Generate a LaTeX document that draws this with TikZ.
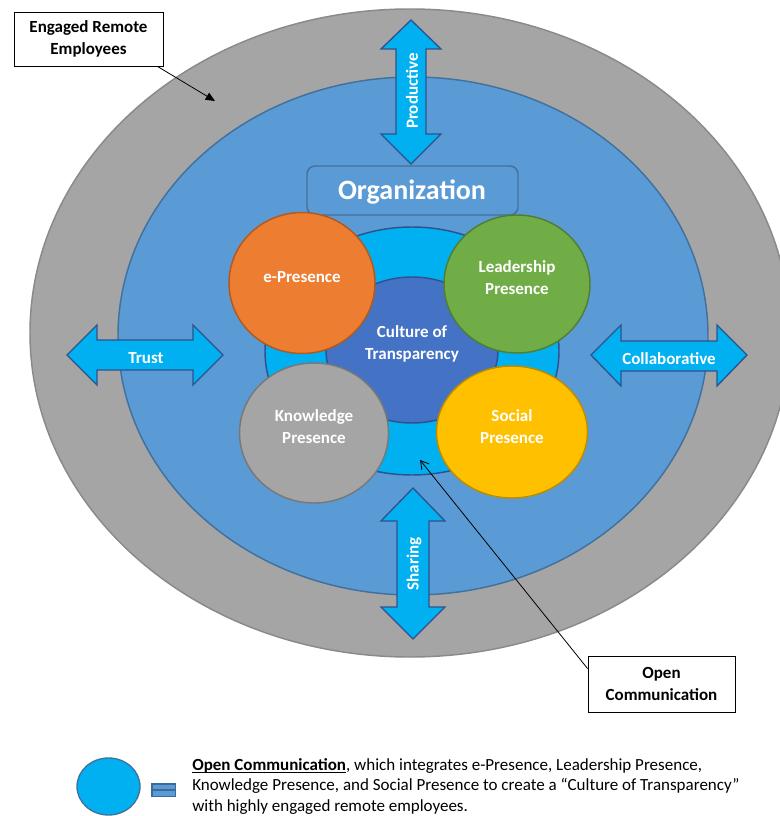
\documentclass[tikz,border=0pt]{standalone}
\usepackage{fontspec}
\setmainfont{Carlito}
\usetikzlibrary{shapes.geometric,arrows.meta}
\definecolor{grayfill}{HTML}{A5A5A5}
\definecolor{grayedge}{HTML}{8A8A8A}
\definecolor{bluefill}{HTML}{5B9BD5}
\definecolor{blueedge}{HTML}{41719C}
\definecolor{cyanfill}{HTML}{00B0F0}
\definecolor{navyedge}{HTML}{2F528F}
\definecolor{corefill}{HTML}{4472C4}
\definecolor{orangefill}{HTML}{ED7D31}
\definecolor{orangeedge}{HTML}{AE5A21}
\definecolor{greenfill}{HTML}{70AD47}
\definecolor{greenedge}{HTML}{507E32}
\definecolor{knowfill}{HTML}{A5A5A5}
\definecolor{knowedge}{HTML}{787878}
\definecolor{yellowfill}{HTML}{FFC000}
\definecolor{yellowedge}{HTML}{BC8C00}
\definecolor{iconfill}{HTML}{5B9BD5}
\definecolor{iconedge}{HTML}{3A6A98}
\newcommand\myunderline[1]{\setbox0\hbox{#1}\rlap{\raisebox{-1.6pt}{\rule{\wd0}{0.55pt}}}\box0}
\tikzset{
  oval/.style={ellipse, inner sep=0pt, line width=1.1pt},
  lbl/.style={text=white, font=\bfseries\fontsize{12.75}{16.5}\selectfont, align=center, inner sep=0pt},
  arrowshape/.style={fill=cyanfill, draw=navyedge, line width=1pt, line join=miter},
  callout/.style={draw=black, fill=white, line width=0.6pt, font=\bfseries\fontsize{12.75}{16.5}\selectfont, align=center, inner sep=0pt},
  pointer/.style={draw=black, line width=0.6pt}
}
\begin{document}
\begin{tikzpicture}[x=0.75pt, y=-0.75pt]
\path[use as bounding box] (0,0) rectangle (780,816);
\fill[white] (0,0) rectangle (780,816);
\begin{scope}
\clip (0,0) rectangle (780,816);
% rings
\node[oval, fill=grayfill, draw=grayedge, minimum width=570pt, minimum height=486pt] (outer) at (410,333) {};
\node[oval, fill=bluefill, draw=blueedge, minimum width=442.5pt, minimum height=388.5pt] (org) at (413,336) {};
\end{scope}
% double arrows
\draw[arrowshape] (411,20) -- (441,49) -- (426,49) -- (426,134) -- (441,134) -- (411,164) -- (381,134) -- (396,134) -- (396,49) -- (381,49) -- cycle;
\draw[arrowshape] (413,488) -- (445,521) -- (429,521) -- (429,607) -- (445,607) -- (413,639) -- (381,607) -- (397,607) -- (397,521) -- (381,521) -- cycle;
\draw[arrowshape] (67,355) -- (97,325) -- (97,340) -- (193,340) -- (193,325) -- (223,355) -- (193,385) -- (193,370) -- (97,370) -- (97,385) -- cycle;
\draw[arrowshape] (591,355) -- (621,325) -- (621,341) -- (717,341) -- (717,325) -- (747,355) -- (717,386) -- (717,371) -- (621,371) -- (621,386) -- cycle;
\node[lbl, rotate=90] (productive) at (412,91) {Productive};
\node[lbl, rotate=90] (sharing) at (414,564) {Sharing};
\node[lbl] (trust) at (146,358) {Trust};
\node[lbl] (collab) at (669,359) {Collaborative};
% organization box
\node[draw=blueedge, fill=bluefill, line width=1.1pt, rounded corners=6pt, minimum width=158.25pt, minimum height=36.75pt, inner sep=0pt] (orgbox) at (412.5,190.5) {};
\node[text=white, font=\bfseries\fontsize{21}{25}\selectfont, inner sep=0pt] (orgtext) at (412,192) {Organization};
% inner ring and core
\node[oval, fill=cyanfill, draw=navyedge, minimum width=220.5pt, minimum height=186pt] (ring) at (412,351) {};
\node[oval, fill=corefill, draw=navyedge, minimum width=129pt, minimum height=109.5pt] (core) at (412,350) {};
\node[lbl] (coretext) at (412,344) {Culture of\\Transparency};
% presence circles
\node[oval, fill=orangefill, draw=orangeedge, minimum width=109.5pt, minimum height=105.75pt] (epres) at (302,283) {};
\node[oval, fill=greenfill, draw=greenedge, minimum width=109.5pt, minimum height=103.5pt] (lead) at (517,284) {};
\node[oval, fill=knowfill, draw=knowedge, minimum width=111.75pt, minimum height=105pt] (know) at (314,433) {};
\node[oval, fill=yellowfill, draw=yellowedge, minimum width=113.25pt, minimum height=99pt] (social) at (512,432) {};
\node[lbl] (etext) at (302,277) {e-Presence};
\node[lbl] (leadtext) at (517,278) {Leadership\\Presence};
\node[lbl] (knowtext) at (314,427) {Knowledge\\Presence};
\node[lbl] (socialtext) at (512,427) {Social\\Presence};
% callouts
\node[callout, minimum width=111.75pt, minimum height=40.5pt] (engaged) at (88.5,39) {Engaged Remote\\Employees};
\coordinate (engtip) at (215,101);
\draw[pointer, -{Triangle[length=7pt, width=6pt]}] ([xshift=-4.5pt]engaged.south east) -- (engtip);
\node[callout, minimum width=110.25pt, minimum height=42pt] (opencomm) at (661.5,684) {Open\\Communication};
\coordinate (opentip) at (420,460);
\draw[pointer, -{Straight Barb[length=6pt, width=7pt]}] ([yshift=-9.75pt]opencomm.north west) -- (opentip);
% legend
\node[oval, fill=cyanfill, draw=blueedge, line width=1pt, minimum width=47.25pt, minimum height=42.75pt] (legcircle) at (108.5,786.5) {};
\node[fill=iconedge, minimum width=18.75pt, minimum height=10.5pt, inner sep=0pt] (equals) at (163.5,790) {};
\fill[iconfill] (152.5,784.5) rectangle (174.5,788.8);
\fill[iconfill] (152.5,791.2) rectangle (174.5,795.5);
\node[anchor=north west, align=left, inner sep=0pt, font=\fontsize{12.75}{15.5}\selectfont] (legtext) at (192,758) {\myunderline{\textbf{Open Communication}}, which integrates e-Presence, Leadership Presence,\\Knowledge Presence, and Social Presence to create a “Culture of Transparency”\\with highly engaged remote employees.};
\end{tikzpicture}
\end{document}
